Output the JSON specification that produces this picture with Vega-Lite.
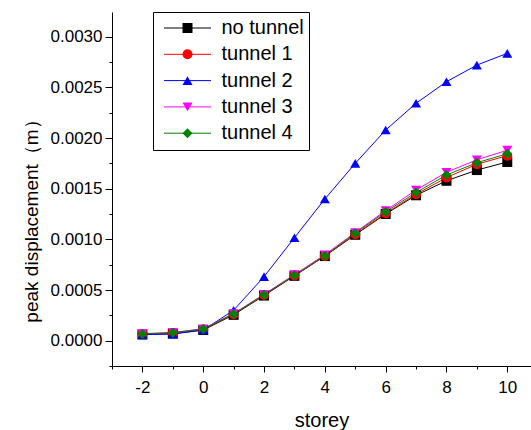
{
  "$schema": "https://vega.github.io/schema/vega-lite/v6.json",
  "autosize": {"type": "none"},
  "padding": {"left": 112, "top": 12, "right": 0, "bottom": 64},
  "width": 419,
  "height": 354,
  "background": "white",
  "config": {
    "view": {"stroke": null},
    "font": "Liberation Sans",
    "axis": {
      "domainColor": "black", "domainWidth": 1, "tickColor": "black", "tickWidth": 1,
      "labelColor": "black", "titleColor": "black", "labelFont": "Liberation Sans",
      "titleFont": "Liberation Sans", "labelFontSize": 17, "titleFontSize": 20,
      "titleFontWeight": "normal", "grid": false
    }
  },
  "data": {"values": [
    {"storey": -2, "disp": 0.000060, "case": "no tunnel"},
    {"storey": -1, "disp": 0.000070, "case": "no tunnel"},
    {"storey": 0, "disp": 0.000105, "case": "no tunnel"},
    {"storey": 1, "disp": 0.000255, "case": "no tunnel"},
    {"storey": 2, "disp": 0.000445, "case": "no tunnel"},
    {"storey": 3, "disp": 0.000640, "case": "no tunnel"},
    {"storey": 4, "disp": 0.000835, "case": "no tunnel"},
    {"storey": 5, "disp": 0.001045, "case": "no tunnel"},
    {"storey": 6, "disp": 0.001250, "case": "no tunnel"},
    {"storey": 7, "disp": 0.001435, "case": "no tunnel"},
    {"storey": 8, "disp": 0.001578, "case": "no tunnel"},
    {"storey": 9, "disp": 0.001684, "case": "no tunnel"},
    {"storey": 10, "disp": 0.001764, "case": "no tunnel"},
    {"storey": -2, "disp": 0.000065, "case": "tunnel 1"},
    {"storey": -1, "disp": 0.000075, "case": "tunnel 1"},
    {"storey": 0, "disp": 0.000110, "case": "tunnel 1"},
    {"storey": 1, "disp": 0.000260, "case": "tunnel 1"},
    {"storey": 2, "disp": 0.000450, "case": "tunnel 1"},
    {"storey": 3, "disp": 0.000643, "case": "tunnel 1"},
    {"storey": 4, "disp": 0.000836, "case": "tunnel 1"},
    {"storey": 5, "disp": 0.001050, "case": "tunnel 1"},
    {"storey": 6, "disp": 0.001258, "case": "tunnel 1"},
    {"storey": 7, "disp": 0.001445, "case": "tunnel 1"},
    {"storey": 8, "disp": 0.001610, "case": "tunnel 1"},
    {"storey": 9, "disp": 0.001742, "case": "tunnel 1"},
    {"storey": 10, "disp": 0.001826, "case": "tunnel 1"},
    {"storey": -2, "disp": 0.000060, "case": "tunnel 2"},
    {"storey": -1, "disp": 0.000065, "case": "tunnel 2"},
    {"storey": 0, "disp": 0.000105, "case": "tunnel 2"},
    {"storey": 1, "disp": 0.000300, "case": "tunnel 2"},
    {"storey": 2, "disp": 0.000632, "case": "tunnel 2"},
    {"storey": 3, "disp": 0.001016, "case": "tunnel 2"},
    {"storey": 4, "disp": 0.001398, "case": "tunnel 2"},
    {"storey": 5, "disp": 0.001750, "case": "tunnel 2"},
    {"storey": 6, "disp": 0.002079, "case": "tunnel 2"},
    {"storey": 7, "disp": 0.002343, "case": "tunnel 2"},
    {"storey": 8, "disp": 0.002556, "case": "tunnel 2"},
    {"storey": 9, "disp": 0.002720, "case": "tunnel 2"},
    {"storey": 10, "disp": 0.002836, "case": "tunnel 2"},
    {"storey": -2, "disp": 0.000070, "case": "tunnel 3"},
    {"storey": -1, "disp": 0.000080, "case": "tunnel 3"},
    {"storey": 0, "disp": 0.000118, "case": "tunnel 3"},
    {"storey": 1, "disp": 0.000268, "case": "tunnel 3"},
    {"storey": 2, "disp": 0.000458, "case": "tunnel 3"},
    {"storey": 3, "disp": 0.000652, "case": "tunnel 3"},
    {"storey": 4, "disp": 0.000848, "case": "tunnel 3"},
    {"storey": 5, "disp": 0.001068, "case": "tunnel 3"},
    {"storey": 6, "disp": 0.001285, "case": "tunnel 3"},
    {"storey": 7, "disp": 0.001487, "case": "tunnel 3"},
    {"storey": 8, "disp": 0.001662, "case": "tunnel 3"},
    {"storey": 9, "disp": 0.001785, "case": "tunnel 3"},
    {"storey": 10, "disp": 0.001880, "case": "tunnel 3"},
    {"storey": -2, "disp": 0.000066, "case": "tunnel 4"},
    {"storey": -1, "disp": 0.000079, "case": "tunnel 4"},
    {"storey": 0, "disp": 0.000115, "case": "tunnel 4"},
    {"storey": 1, "disp": 0.000263, "case": "tunnel 4"},
    {"storey": 2, "disp": 0.000454, "case": "tunnel 4"},
    {"storey": 3, "disp": 0.000645, "case": "tunnel 4"},
    {"storey": 4, "disp": 0.000839, "case": "tunnel 4"},
    {"storey": 5, "disp": 0.001060, "case": "tunnel 4"},
    {"storey": 6, "disp": 0.001273, "case": "tunnel 4"},
    {"storey": 7, "disp": 0.001462, "case": "tunnel 4"},
    {"storey": 8, "disp": 0.001635, "case": "tunnel 4"},
    {"storey": 9, "disp": 0.001757, "case": "tunnel 4"},
    {"storey": 10, "disp": 0.001845, "case": "tunnel 4"}
  ]},
  "layer": [
    {
      "mark": {"type": "line", "strokeWidth": 1},
      "encoding": {
        "x": {"field": "storey", "type": "quantitative",
          "scale": {"domain": [-3, 10.78], "nice": false, "zero": false},
          "axis": {"values": [-2, 0, 2, 4, 6, 8, 10], "labelExpr": "datum.value < 0 ? '-' + abs(datum.value) : '' + datum.value", "tickSize": 6, "labelPadding": 7, "title": "storey", "titleY": 44, "orient": "bottom"}},
        "y": {"field": "disp", "type": "quantitative",
          "scale": {"domain": [-0.00025, 0.003244], "nice": false, "zero": false},
          "axis": {"values": [0, 0.0005, 0.001, 0.0015, 0.002, 0.0025, 0.003], "format": ".4f", "tickSize": 7, "labelPadding": 3,
            "title": "peak displacement（m）", "titleFontSize": 19, "titleX": -71, "titleY": 204, "orient": "left"}},
        "stroke": {"field": "case", "type": "nominal",
          "scale": {"range": ["#000000", "#FF0000", "#0000FF", "#FF00FF", "#008000"]},
          "legend": {
            "orient": "none", "legendX": 41, "legendY": 0, "title": null,
            "strokeColor": "black", "fillColor": null, "padding": 5,
            "clipHeight": 22, "rowPadding": 4.3, "symbolOffset": 5.5, "labelOffset": 10,
            "symbolType": "stroke", "symbolSize": 2209, "symbolStrokeWidth": 1,
            "labelFontSize": 20, "labelFont": "Liberation Sans", "labelColor": "black"
          }}
      }
    },
    {
      "mark": {"type": "point", "filled": true, "size": 100, "opacity": 1, "strokeWidth": 0},
      "encoding": {
        "x": {"field": "storey", "type": "quantitative",
          "axis": {"values": [-3, -1, 1, 3, 5, 7, 9], "tickSize": 3, "labels": false, "domain": false, "title": null, "orient": "bottom"}},
        "y": {"field": "disp", "type": "quantitative",
          "axis": {"values": [-0.00025, 0.00025, 0.00075, 0.00125, 0.00175, 0.00225, 0.00275], "tickSize": 3, "labels": false, "domain": false, "title": null, "orient": "left"}},
        "color": {"field": "case", "type": "nominal",
          "scale": {"domain": ["no tunnel", "tunnel 1", "tunnel 2", "tunnel 3", "tunnel 4"], "range": ["#000000", "#FF0000", "#0000FF", "#FF00FF", "#008000"]},
          "legend": {
            "orient": "none", "legendX": 41, "legendY": 0, "title": null,
            "strokeColor": null, "fillColor": null, "padding": 5,
            "clipHeight": 22, "rowPadding": 4.3, "symbolOffset": 19.5, "labelOffset": 39,
            "symbolSize": 100, "symbolStrokeWidth": 0,
            "labelFontSize": 20, "labelFont": "Liberation Sans", "labelColor": "transparent", "labelExpr": "''"
          }},
        "shape": {"field": "case", "type": "nominal",
          "scale": {"domain": ["no tunnel", "tunnel 1", "tunnel 2", "tunnel 3", "tunnel 4"], "range": ["square", "circle", "triangle-up", "triangle-down", "diamond"]},
          "legend": {
            "orient": "none", "legendX": 41, "legendY": 0, "title": null,
            "strokeColor": null, "fillColor": null, "padding": 5,
            "clipHeight": 22, "rowPadding": 4.3, "symbolOffset": 19.5, "labelOffset": 39,
            "symbolSize": 100, "symbolStrokeWidth": 0,
            "labelFontSize": 20, "labelFont": "Liberation Sans", "labelColor": "transparent", "labelExpr": "''"
          }}
      }
    }
  ],
  "resolve": {"axis": {"x": "independent", "y": "independent"}}
}
